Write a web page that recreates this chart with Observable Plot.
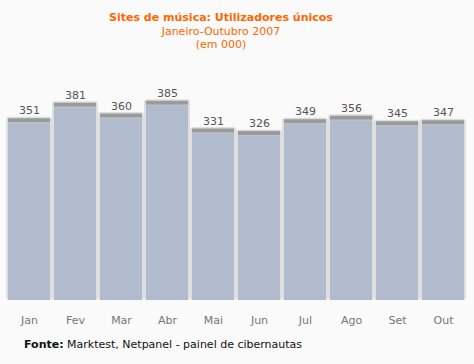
<!DOCTYPE html>
<html><head><meta charset="utf-8">
<script src="https://cdn.jsdelivr.net/npm/d3@7"></script>
<script src="https://cdn.jsdelivr.net/npm/@observablehq/plot@0.6"></script>
<style>
body{margin:0;background:#fafafa;font-family:"DejaVu Sans",Verdana,sans-serif;width:474px;height:364px;overflow:hidden}
#head{width:442px;text-align:center;color:#ff6600;padding-top:11px;height:49px;font-size:11px;line-height:13.5px}
#head .t{font-weight:bold}
#cap{padding-left:24px;padding-top:6px;font-size:11px;line-height:14px;color:#111}
svg{display:block}
</style></head>
<body>
<div id="head"><div class="t">Sites de música: Utilizadores únicos</div><div>Janeiro-Outubro 2007</div><div>(em 000)</div></div>
<div id="chart"></div>
<div id="cap"><b>Fonte:</b> Marktest, Netpanel - painel de cibernautas</div>
<script>
const months = ["Jan","Fev","Mar","Abr","Mai","Jun","Jul","Ago","Set","Out"];
const users = [351,381,360,385,331,326,349,356,345,347];
const data = months.map((m,i)=>({m, v: users[i]}));
const chart = Plot.plot({
  width: 474, height: 272,
  marginLeft: 5, marginRight: 8, marginTop: 33.4, marginBottom: 32,
  style: {background: "transparent", fontFamily: "DejaVu Sans, Verdana, sans-serif"},
  x: {domain: months, paddingInner: 0.09, paddingOuter: 0.045, label: null, tickSize: 0, tickPadding: 16},
  y: {domain: [0, 400], axis: null},
  marks: [
    Plot.barY(data, {x: "m", y: "v", fill: "#dedede", insetLeft: -2, insetRight: -2, insetTop: -2, rx: 3}),
    Plot.barY(data, {x: "m", y: "v", fill: "#b0bccd"}),
    Plot.tickY(data, {x: "m", y: "v", stroke: "#9a9a9a", strokeWidth: 4, dy: 1}),
    Plot.tickY(data, {x: "m", y: "v", stroke: "#c4c4c4", strokeWidth: 1, dy: 3.5}),
    Plot.text(data, {x: "m", y: "v", text: d => String(d.v), dy: -5, lineAnchor: "bottom", fill: "#555", fontSize: 11}),
    Plot.axisX({tickSize: 0, tickPadding: 16, fontSize: 11, color: "#777"})
  ]
});
document.getElementById("chart").append(chart);
</script>
</body></html>
